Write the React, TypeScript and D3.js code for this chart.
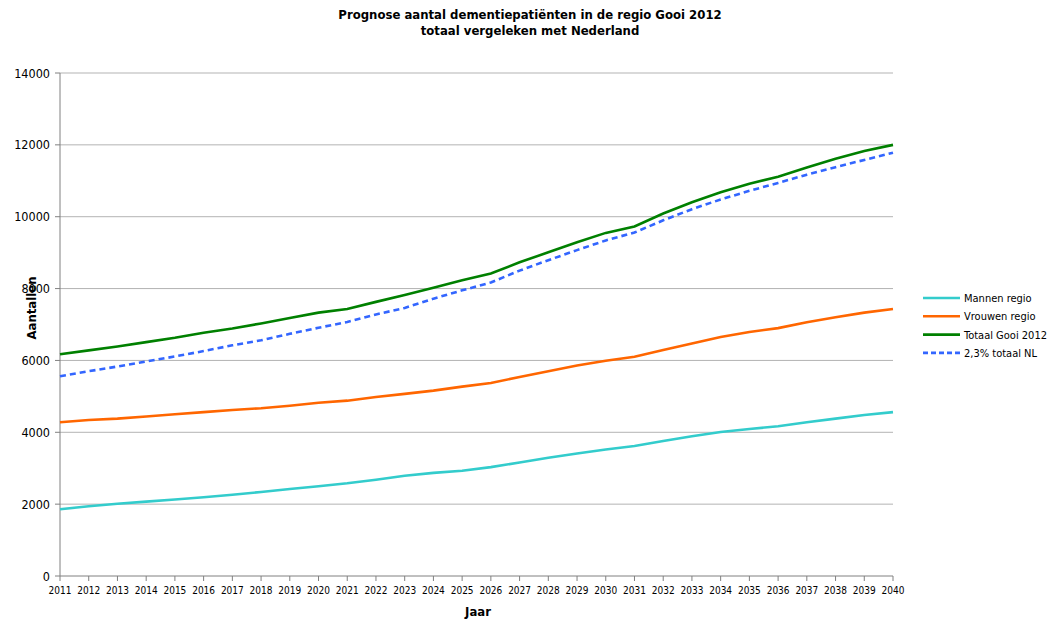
import React from "react";
import * as d3 from "d3";

const years = d3.range(2011, 2041);
const mannen = [1860, 1940, 2010, 2070, 2130, 2190, 2260, 2340, 2420, 2500, 2580, 2680, 2790, 2870, 2930, 3030, 3160, 3290, 3410, 3520, 3620, 3760, 3890, 4010, 4090, 4170, 4280, 4380, 4480, 4560];
const vrouwen = [4280, 4340, 4380, 4440, 4500, 4560, 4620, 4670, 4740, 4820, 4880, 4980, 5070, 5160, 5270, 5370, 5540, 5700, 5860, 5990, 6100, 6290, 6470, 6650, 6790, 6900, 7060, 7200, 7330, 7430];
const totaal = [6170, 6280, 6390, 6510, 6630, 6770, 6890, 7030, 7180, 7330, 7430, 7630, 7820, 8020, 8230, 8420, 8730, 9010, 9290, 9550, 9730, 10090, 10400, 10680, 10920, 11110, 11370, 11610, 11830, 12000];
const nl = [5560, 5700, 5830, 5970, 6110, 6260, 6420, 6560, 6740, 6910, 7070, 7280, 7460, 7720, 7950, 8170, 8500, 8790, 9070, 9340, 9560, 9900, 10210, 10480, 10720, 10940, 11170, 11380, 11580, 11780];
const yTicks = [0, 2000, 4000, 6000, 8000, 10000, 12000, 14000];

const series = [
  { name: "Mannen regio", values: mannen, color: "#33CCCC", dash: "" },
  { name: "Vrouwen regio", values: vrouwen, color: "#FF6600", dash: "" },
  { name: "Totaal Gooi 2012", values: totaal, color: "#008000", dash: "" },
  { name: "2,3% totaal NL", values: nl, color: "#3366FF", dash: "6,4" },
];

const FONT = "'DejaVu Sans Condensed', 'DejaVu Sans', sans-serif";

export default function App() {
  const W = 1054, H = 619;
  const left = 60, right = 893, top = 73, bottom = 576;
  const x = d3.scaleLinear().domain([2011, 2040]).range([left, right]);
  const y = d3.scaleLinear().domain([0, 14000]).range([bottom, top]);
  const line = d3.line<number>().x((_, i) => x(years[i])).y((d) => y(d));

  return (
    <svg width={W} height={H} style={{ position: "absolute", left: 0, top: 0, background: "#fff" }} fontFamily={FONT}>
      <text x={530} y={19} textAnchor="middle" fontWeight="bold" fontSize={13}>Prognose aantal dementiepatiënten in de regio Gooi 2012</text>
      <text x={530} y={35} textAnchor="middle" fontWeight="bold" fontSize={13}>totaal vergeleken met Nederland</text>

      {yTicks.filter((t) => t > 0).map((t) => (
        <line key={"g" + t} x1={left} x2={right} y1={y(t)} y2={y(t)} stroke="#b3b3b3" strokeWidth={1} />
      ))}
      <line x1={left} x2={left} y1={top} y2={bottom} stroke="#808080" />
      <line x1={left} x2={right} y1={bottom} y2={bottom} stroke="#808080" />
      {yTicks.map((t) => (
        <g key={"y" + t}>
          <line x1={left - 5} x2={left} y1={y(t)} y2={y(t)} stroke="#808080" />
          <text x={left - 10} y={y(t) + 4.5} textAnchor="end" fontSize={12.5}>{t}</text>
        </g>
      ))}
      {years.map((yr) => (
        <g key={"x" + yr}>
          <line x1={x(yr)} x2={x(yr)} y1={bottom} y2={bottom + 5} stroke="#808080" />
          <text x={x(yr)} y={bottom + 18} textAnchor="middle" fontSize={10}>{yr}</text>
        </g>
      ))}
      <text x={478} y={616} textAnchor="middle" fontWeight="bold" fontSize={13}>Jaar</text>
      <text transform={`translate(36,308) rotate(-90)`} textAnchor="middle" fontWeight="bold" fontSize={13}>Aantallen</text>

      {series.map((s) => (
        <path key={s.name} d={line(s.values) || ""} fill="none" stroke={s.color} strokeWidth={2.6} strokeDasharray={s.dash || undefined} />
      ))}

      {series.map((s, i) => (
        <g key={"l" + s.name} transform={`translate(0,${298 + i * 18.3})`}>
          <line x1={923} x2={960} y1={0} y2={0} stroke={s.color} strokeWidth={2.6} strokeDasharray={s.dash ? "5,3" : undefined} />
          <text x={964} y={4} fontSize={11}>{s.name}</text>
        </g>
      ))}
    </svg>
  );
}
